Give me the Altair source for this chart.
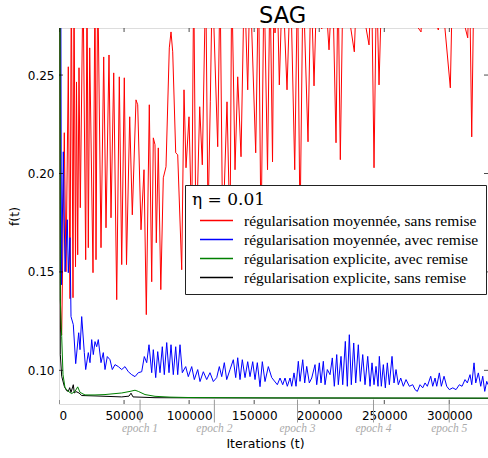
import altair as alt
import pandas as pd

SERIES = ["régularisation moyennée, sans remise", "régularisation moyennée, avec remise",
          "régularisation explicite, avec remise", "régularisation explicite, sans remise"]
COLORS = ["#ff0000", "#0000ff", "#008000", "#000000"]
DRAW_ORDER = [0, 1, 3, 2]

RED_T = [0, 1150, 2075, 4074, 5380, 7148, 8455, 9454, 10760, 11530, 12682, 13450, 14373, 15372, 16371,
         18446, 20522, 21521, 22520, 23596, 26132, 27670, 28438, 29745, 32281, 34356, 36124, 38430,
         39967, 42042, 44348, 46346, 48191, 50189, 51881, 54340, 56339, 59182, 60489, 63025, 65331,
         67099, 69405, 71249, 72479, 73786, 74785, 76322, 78244, 80165, 82240, 84777, 86083, 87390,
         89695, 91233, 94307, 96075, 97612, 99918, 101993, 103530, 105298, 108142, 110140, 112753,
         114521, 116289, 117826, 121977, 123745, 125820, 129125, 131431, 132738, 135274, 137349,
         139885, 142422, 145035, 146803, 151184, 153336, 155257, 157563, 160253, 162175, 164096,
         165249, 166018, 167555, 169323, 171783, 175241, 177931, 181159, 183311, 185233, 187538,
         191381, 193687, 195993, 198299, 201911, 204000, 207522, 210212, 212902, 214440, 216208,
         218282, 226967, 229043, 238266, 240188, 242109, 244031, 245952, 248258, 278233, 280000,
         291528, 293000, 300750, 302500, 314124, 315500, 317198, 318900, 329729]
RED_F = [0.69, 0.1207, 0.1181, 0.2207, 0.1501, 0.2542, 0.1364, 0.30, 0.1369, 0.30, 0.1526, 0.2465,
         0.1587, 0.2537, 0.1826, 0.30, 0.1562, 0.30, 0.1623, 0.2638, 0.1496, 0.30, 0.1562, 0.30,
         0.1623, 0.2592, 0.1724, 0.2602, 0.1775, 0.2511, 0.1359, 0.2491, 0.1537, 0.2486, 0.1537,
         0.2288, 0.1790, 0.2374, 0.2349, 0.1714, 0.2019, 0.1283, 0.2349, 0.1450, 0.2181, 0.2146,
         0.1648, 0.2130, 0.1410, 0.1978, 0.2034, 0.2638, 0.2719, 0.2618, 0.2105, 0.2095, 0.1511,
         0.2425, 0.2029, 0.2288, 0.1714, 0.30, 0.1613, 0.2339, 0.2044, 0.30, 0.1765, 0.2364, 0.30,
         0.2136, 0.30, 0.1663, 0.2364, 0.1663, 0.30, 0.2019, 0.2491, 0.2085, 0.30, 0.2425, 0.30,
         0.2105, 0.30, 0.1663, 0.30, 0.2019, 0.30, 0.2059, 0.30, 0.2714, 0.30, 0.2450, 0.30, 0.2425,
         0.30, 0.2019, 0.30, 0.1714, 0.30, 0.2161, 0.30, 0.2445, 0.30, 0.2734, 0.30, 0.2628, 0.30,
         0.2156, 0.30, 0.2070, 0.30, 0.2618, 0.30, 0.2653, 0.30, 0.2029, 0.30, 0.2450, 0.30, 0.2719,
         0.30, 0.2729, 0.30, 0.2435, 0.30, 0.2689, 0.30, 0.2186, 0.30, 0.30]

BLUE_T = [0, 1922, 3305, 4612, 6379, 7148, 8455, 9223, 10991, 12836, 15141, 16141, 17447, 19446,
          20522, 22520, 23827, 25133, 26363, 27670, 28976, 30206, 32281, 34049, 35356, 37123, 39199,
          40967, 43042, 45578, 48191, 50728, 53264, 55878, 58414, 60950, 63564, 65562, 67407, 69174,
          71249, 72479, 74324, 75861, 77629, 79397, 80934, 82778, 84546, 86083, 87851, 89695, 91233,
          93001, 94768, 97382, 99380, 101993, 103992, 106605, 108373, 110909, 113523, 116059, 118596,
          121209, 123207, 125052, 127050, 128895, 131431, 133968, 135812, 137349, 139117, 140885,
          142960, 145035, 146803, 148878, 150646, 152414, 154489, 156257, 158332, 160868, 163481,
          167786, 169861, 171935, 173704, 175471, 177547, 178852, 180621, 182158, 183925, 185233,
          187309, 188846, 190383, 192382, 194226, 196762, 198069, 200068, 201373, 203141, 204448,
          206216, 208291, 210059, 211596, 213441, 214670, 216745, 218052, 220050, 221587, 223125,
          224662, 226506, 228043, 230042, 231579, 233423, 235192, 237267, 239035, 240572, 242109,
          243646, 245183, 246183, 247720, 249257, 250794, 252332, 253869, 255944, 257481, 259018,
          260786, 262630, 264629, 266704, 269241, 271854, 273622, 275390, 277465, 279540, 281308,
          283075, 285689, 287226, 288994, 290300, 292298, 293836, 295911, 297986, 299985, 302598,
          305134, 307671, 309746, 312052, 313819, 315895, 317202, 318969, 320276, 322274, 324119,
          325656, 327193, 328730, 329729]
BLUE_F = [0.69, 0.1435, 0.2110, 0.1501, 0.1765, 0.1496, 0.1674, 0.1273, 0.1232, 0.1034, 0.1191,
          0.1105, 0.1273, 0.1090, 0.1004, 0.1090, 0.1039, 0.1156, 0.1080, 0.1146, 0.1120, 0.1156,
          0.1039, 0.1090, 0.1004, 0.1070, 0.1054, 0.1004, 0.1029, 0.1019, 0.1004, 0.1019, 0.0993,
          0.0978, 0.0968, 0.0988, 0.0993, 0.1070, 0.1039, 0.1130, 0.0988, 0.1105, 0.0963, 0.1095,
          0.0988, 0.1120, 0.0978, 0.1141, 0.0988, 0.1130, 0.0978, 0.1120, 0.0978, 0.1130, 0.0988,
          0.1019, 0.0968, 0.1019, 0.0953, 0.1004, 0.0943, 0.0993, 0.0953, 0.0988, 0.0943, 0.0963,
          0.1019, 0.0968, 0.1039, 0.0953, 0.1004, 0.1054, 0.0963, 0.1064, 0.0953, 0.1054, 0.0963,
          0.1044, 0.0968, 0.1044, 0.0953, 0.1039, 0.0917, 0.1044, 0.0943, 0.1019, 0.0963, 0.0927,
          0.0961, 0.0927, 0.0961, 0.0919, 0.0961, 0.0919, 0.0987, 0.0919, 0.1046, 0.0944, 0.1054,
          0.0936, 0.1020, 0.0936, 0.0961, 0.1029, 0.0927, 0.1038, 0.0936, 0.1046, 0.0927, 0.1004,
          0.0978, 0.1063, 0.0919, 0.1080, 0.0927, 0.1071, 0.0927, 0.1147, 0.0919, 0.1181, 0.0927,
          0.1139, 0.0936, 0.1130, 0.0944, 0.1080, 0.0927, 0.1071, 0.0919, 0.1038, 0.0927, 0.1020,
          0.0919, 0.1071, 0.0919, 0.1029, 0.0911, 0.1038, 0.0927, 0.1071, 0.0936, 0.1004, 0.0927,
          0.0961, 0.0919, 0.0953, 0.0919, 0.0927, 0.0902, 0.0893, 0.0927, 0.0911, 0.0936, 0.0919,
          0.0970, 0.0919, 0.0961, 0.0919, 0.0987, 0.0919, 0.0970, 0.0919, 0.0902, 0.0911, 0.0902,
          0.0927, 0.0919, 0.0953, 0.0936, 0.0978, 0.0927, 0.1038, 0.0936, 0.0987, 0.0919, 0.0970,
          0.0893, 0.0944, 0.0927]

GREEN_T = [0, 1000, 2075, 3074, 4612, 7148, 9761, 12298, 14373, 16141, 19984, 27670, 35356, 48191,
           54571, 58414, 60950, 66100, 73786, 85315, 99149, 166018, 329729]
GREEN_F = [0.69, 0.1359, 0.1171, 0.0978, 0.0912, 0.0893, 0.0882, 0.0893, 0.0916, 0.0888, 0.0875,
           0.0875, 0.0877, 0.0885, 0.0893, 0.0899, 0.0893, 0.0877, 0.0868, 0.0864, 0.0862, 0.0860,
           0.0859]

BLACK_T = [0, 1000, 2075, 4074, 5765, 7148, 8224, 9223, 10991, 11760, 13066, 15372, 17447, 27670,
           48191, 53802, 55339, 56876, 73786, 108373, 329729]
BLACK_F = [0.69, 0.1080, 0.0970, 0.0919, 0.0897, 0.0893, 0.0912, 0.0888, 0.0927, 0.0885, 0.0892,
           0.0885, 0.0872, 0.0870, 0.0865, 0.0869, 0.0884, 0.0865, 0.0861, 0.0860, 0.0858]

EPOCH_T = [62300, 119400, 183300, 241700, 299900]
EPOCH_LABELS = ["epoch 1", "epoch 2", "epoch 3", "epoch 4", "epoch 5"]

X_TICKS = [0, 50000, 100000, 150000, 200000, 250000, 300000]
Y_TICKS = [0.10, 0.15, 0.20, 0.25]
X_DOMAIN = [0, 329700]
Y_DOMAIN = [0.0829, 0.2739]

W, H = 429, 376

rows = []
for name, ts, fs in zip(SERIES, [RED_T, BLUE_T, GREEN_T, BLACK_T], [RED_F, BLUE_F, GREEN_F, BLACK_F]):
    for i, (t, f) in enumerate(zip(ts, fs)):
        rows.append({"series": name, "t": t, "f": f, "i": i})
df = pd.DataFrame(rows)

xscale = alt.Scale(domain=X_DOMAIN, nice=False, zero=False)
yscale = alt.Scale(domain=Y_DOMAIN, nice=False, zero=False)
cscale = alt.Scale(domain=SERIES, range=COLORS)

xaxis = alt.Axis(values=X_TICKS, format="d", tickSize=0, domain=False, grid=False,
                 labelFont="DejaVu Sans", labelFontSize=12, labelColor="black", labelPadding=6,
                 title="Iterations (t)", titleFont="DejaVu Sans", titleFontSize=12.5,
                 titleFontWeight="normal", titleColor="black", titlePadding=16, titleX=206)
yaxis = alt.Axis(values=Y_TICKS, format=".2f", tickSize=0, domain=False, grid=False,
                 labelFont="DejaVu Sans", labelFontSize=12, labelColor="black", labelPadding=5,
                 title="f(t)", titleFont="DejaVu Sans", titleFontSize=12.5,
                 titleFontWeight="normal", titleColor="black", titlePadding=6)

legend = alt.Legend(orient="none", legendX=126, legendY=157, title="η = 0.01",
                    titleFont="DejaVu Serif", titleFontSize=17, titleFontWeight="normal",
                    titleColor="black", titlePadding=2,
                    labelFont="Liberation Serif", labelFontSize=15.5, labelColor="black",
                    labelLimit=400, labelOffset=10,
                    symbolType="stroke", symbolSize=1089, symbolStrokeWidth=1.5,
                    symbolOffset=7,
                    clipHeight=19, rowPadding=0, padding=7,
                    fillColor="white", strokeColor="#222222")

layers = []
for k in DRAW_ORDER:
    name = SERIES[k]
    layers.append(
        alt.Chart(df).transform_filter(alt.datum.series == name)
        .mark_line(clip=True, strokeWidth=1)
        .encode(x=alt.X("t:Q", scale=xscale, axis=xaxis),
                y=alt.Y("f:Q", scale=yscale, axis=yaxis),
                color=alt.Color("series:N", scale=cscale, legend=legend),
                order="i:Q")
    )

ep = pd.DataFrame({"t": EPOCH_T, "label": EPOCH_LABELS})
epoch_rules = alt.Chart(ep).mark_rule(color="#999999", strokeWidth=1).encode(
    x=alt.X("t:Q", scale=xscale), y=alt.datum(0.0851), y2=alt.datum(0.0735))
epoch_text = alt.Chart(ep).mark_text(font="Liberation Serif", fontStyle="italic", fontSize=11.5,
                                     color="#aaaaaa", baseline="middle").encode(
    x=alt.X("t:Q", scale=xscale), y=alt.datum(0.0704), text="label:N")

xt = pd.DataFrame({"t": X_TICKS})
yt = pd.DataFrame({"f": Y_TICKS})
tick_layers = []
for yv in Y_DOMAIN:
    tick_layers.append(alt.Chart(xt).mark_tick(clip=True, size=8, thickness=1, color="black",
                                               orient="vertical")
                       .encode(x=alt.X("t:Q", scale=xscale), y=alt.datum(yv)))
for xv in X_DOMAIN:
    tick_layers.append(alt.Chart(yt).mark_tick(clip=True, size=8, thickness=1, color="black",
                                               orient="horizontal")
                       .encode(y=alt.Y("f:Q", scale=yscale), x=alt.datum(xv)))

chart = alt.layer(*layers, *tick_layers, epoch_rules, epoch_text).properties(
    width=W, height=H,
    title=alt.TitleParams("SAG", font="DejaVu Sans", fontSize=22.5, fontWeight="normal",
                          color="black", anchor="middle", dx=9, offset=1),
    padding={"left": 59, "top": 28, "right": 0, "bottom": 54},
    autosize=alt.AutoSizeParams(type="none"),
).configure_view(stroke="black", strokeWidth=1).configure(background="white")

chart.save("out.html", embed_options={"renderer": "svg", "actions": False})
